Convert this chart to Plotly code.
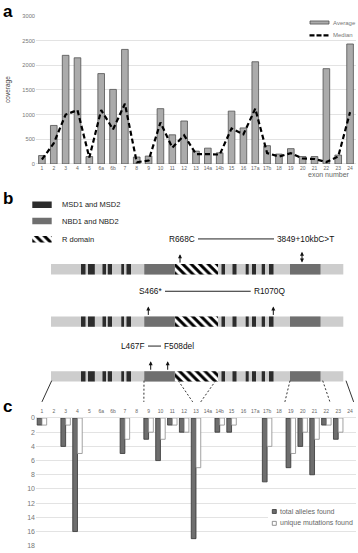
import plotly.graph_objects as go

W, H = 358, 553
FONT = "Liberation Sans"

# ---------------- data ----------------
exons = ["1", "2", "3", "4", "5", "6a", "6b", "7", "8", "9", "10", "11", "12", "13",
         "14a", "14b", "15", "16", "17a", "17b", "18", "19", "20", "21", "22", "23", "24"]
coverage_average = [170, 780, 2200, 2150, 150, 1830, 1510, 2320, 140, 160, 1120, 590, 870, 260,
                    320, 225, 1070, 730, 2070, 370, 200, 310, 150, 150, 1930, 180, 2430]
coverage_median = [90, 420, 1000, 1090, 130, 1090, 700, 1220, 35, 70, 840, 330, 580, 200,
                   200, 190, 720, 600, 1120, 220, 150, 220, 110, 100, 40, 150, 1050]
coverage_ticks = [0, 500, 1000, 1500, 2000, 2500, 3000]

total_alleles = [1, 0, 4, 16, 0, 0, 0, 5, 0, 3, 6, 1, 2, 17, 0, 2, 2, 0, 0, 9, 0, 7, 4, 8, 1, 3, 0]
unique_mutations = [1, 0, 1, 5, 0, 0, 0, 3, 0, 2, 3, 1, 2, 7, 0, 1, 1, 0, 0, 4, 0, 5, 2, 3, 1, 2, 0]
allele_ticks = [0, 2, 4, 6, 8, 10, 12, 14, 16, 18]

# gene schematic (positions along the drawn gene)
gene_span = (51, 343.3)
msd_blocks = [(81, 85.5), (88, 94.8), (102.5, 106), (107.8, 112), (121.3, 124), (126.5, 131),
              (221.5, 225), (232.5, 236.5), (245.7, 248.7), (252, 256), (261.7, 265), (269, 273.5)]
nbd_blocks = [(144.3, 174.8), (290, 320.5)]
r_domain = (175, 218)
row_centers = [268.7, 321.7, 377.2]
domain_legend = ["MSD1 and MSD2", "NBD1 and NBD2", "R domain"]

# mutations per row: (label, position, double-headed)
row_mutations = [
    [("R668C", 180, False), ("3849+10kbC>T", 302, True)],
    [("S466*", 148.3, False), ("R1070Q", 273.3, False)],
    [("L467F", 150.7, False), ("F508del", 167.7, False)],
]
# connectors: gene position -> exon index position in panel c, dashed?
connectors = [(51.7, 0.0, False), (144, 8.6, True), (178.3, 12.72, True), (215.7, 13.4, True),
              (290, 20.5, True), (322.7, 24.3, True), (346, 26.3, False)]

# ---------------- geometry helpers ----------------
X0, X1 = 36, 356  # plot area (px) shared by panels a and c


def px(x):
    return x / W


def py(y):
    return 1 - y / H


def exon_px(idx):
    return X0 + (idx + 0.5) * (X1 - X0) / len(exons)


fig = go.Figure()

# ---------------- panel a ----------------
fig.add_trace(go.Bar(x=exons, y=coverage_average, width=0.56, xaxis="x", yaxis="y",
                     marker=dict(color="#ababab", line=dict(color="#505050", width=0.8)),
                     name="Average"))
fig.add_trace(go.Scatter(x=exons, y=coverage_median, mode="lines", xaxis="x", yaxis="y",
                         line=dict(color="black", width=2.2, dash="5px,3px"), name="Median"))

# ---------------- panel c ----------------
fig.add_trace(go.Bar(x=exons, y=[v if v else None for v in total_alleles], width=0.4, offset=-0.4,
                     xaxis="x2", yaxis="y2", name="total alleles found",
                     marker=dict(color="#6e6e6e", line=dict(color="#333333", width=0.8))))
fig.add_trace(go.Bar(x=exons, y=[v if v else None for v in unique_mutations], width=0.4, offset=0,
                     xaxis="x2", yaxis="y2", name="unique mutations found",
                     marker=dict(color="white", line=dict(color="#8c8c8c", width=0.8))))

# ---------------- panel b (gene diagrams) ----------------
BH = 10.5
n = len(row_centers)
fig.add_trace(go.Bar(orientation="h", y=row_centers, x=[gene_span[1] - gene_span[0]] * n,
                     base=[gene_span[0]] * n, width=BH, xaxis="x3", yaxis="y3",
                     marker=dict(color="#cdcdcd", line=dict(width=0))))
ys, xs, bs = [], [], []
for yc in row_centers:
    for a, b in msd_blocks:
        ys.append(yc); xs.append(b - a); bs.append(a)
fig.add_trace(go.Bar(orientation="h", y=ys, x=xs, base=bs, width=BH, xaxis="x3", yaxis="y3",
                     marker=dict(color="#2c2c2c", line=dict(width=0))))
ys, xs, bs = [], [], []
for yc in row_centers:
    for a, b in nbd_blocks:
        ys.append(yc); xs.append(b - a); bs.append(a)
fig.add_trace(go.Bar(orientation="h", y=ys, x=xs, base=bs, width=BH, xaxis="x3", yaxis="y3",
                     marker=dict(color="#6f6f6f", line=dict(width=0))))
hatch = dict(shape="\\", fgcolor="#000000", bgcolor="white", fgopacity=1, size=6, solidity=0.5)
fig.add_trace(go.Bar(orientation="h", y=row_centers, x=[r_domain[1] - r_domain[0]] * n,
                     base=[r_domain[0]] * n, width=BH, xaxis="x3", yaxis="y3",
                     marker=dict(color="white", pattern=hatch, line=dict(width=0))))
# domain legend swatches
leg_y = [203.3, 219.8, 238.3]
fig.add_trace(go.Bar(orientation="h", y=leg_y[:2], x=[19.4, 19.4], base=[32.3, 32.3], width=6.4,
                     xaxis="x3", yaxis="y3",
                     marker=dict(color=["#2c2c2c", "#6f6f6f"], line=dict(width=0))))
fig.add_trace(go.Bar(orientation="h", y=[leg_y[2]], x=[19.4], base=[32.3], width=6.4,
                     xaxis="x3", yaxis="y3",
                     marker=dict(color="white", pattern=hatch, line=dict(width=0))))

shapes = []
annotations = []

# domain legend text
for label, yv in zip(domain_legend, leg_y):
    annotations.append(dict(text=label, x=60, y=yv, xref="x3", yref="y3", xanchor="left",
                            yanchor="middle", showarrow=False,
                            font=dict(family=FONT, size=7.5, color="#1a1a1a")))

# mutations
left_ends = {"R668C": 197, "S466*": 164, "L467F": 147}
right_starts = {"3849+10kbC>T": 275, "R1070Q": 251.7, "F508del": 162}
for yc, muts in zip(row_centers, row_mutations):
    top = yc - BH / 2
    ty = top - 25.5
    (l1, p1, d1), (l2, p2, d2) = muts
    annotations.append(dict(text=l1, x=left_ends[l1], y=ty, xref="x3", yref="y3",
                            xanchor="right", yanchor="middle", showarrow=False,
                            font=dict(family=FONT, size=8.3, color="#111")))
    annotations.append(dict(text=l2, x=right_starts[l2], y=ty, xref="x3", yref="y3",
                            xanchor="left", yanchor="middle", showarrow=False,
                            font=dict(family=FONT, size=8.3, color="#111")))
    shapes.append(dict(type="line", xref="x3", yref="y3", x0=left_ends[l1] + 1,
                       x1=right_starts[l2] - 1, y0=ty, y1=ty, line=dict(color="#222", width=1)))
    for lab, p, dbl in muts:
        head = top - (12.5 if dbl else 10)
        annotations.append(dict(text="", x=p, y=head, ax=p, ay=top, xref="x3", yref="y3",
                                axref="x3", ayref="y3", showarrow=True,
                                arrowhead=2, arrowsize=0.8, arrowwidth=1,
                                arrowside="end+start" if dbl else "end",
                                startarrowhead=2, startarrowsize=0.8,
                                arrowcolor="#111", standoff=0, startstandoff=0))

# connectors from last gene diagram to panel c exons
for gx, ei, dashed in connectors:
    shapes.append(dict(type="line", xref="x3", yref="y3", x0=gx, y0=381.5, x1=exon_px(ei), y1=403,
                       line=dict(color="#333", width=1, dash="2px,2px" if dashed else "solid")))

# panel a legend (manual)
shapes.append(dict(type="rect", xref="paper", yref="paper", x0=px(310), x1=px(329),
                   y0=py(20.3), y1=py(17.2), fillcolor="#ababab", line=dict(color="#505050", width=0.8)))
shapes.append(dict(type="line", xref="paper", yref="paper", x0=px(309.5), x1=px(329),
                   y0=py(31.7), y1=py(31.7), line=dict(color="black", width=2.2, dash="5px,2px")))
for txt, yv in [("Average", 18.8), ("Median", 31.7)]:
    annotations.append(dict(text=txt, x=px(331), y=py(yv), xref="paper", yref="paper",
                            xanchor="left", yanchor="middle", showarrow=False,
                            font=dict(family=FONT, size=6, color="#777")))

# panel c legend (manual)
shapes.append(dict(type="rect", xref="paper", yref="paper", x0=px(268), x1=px(358),
                   y0=py(532), y1=py(507), fillcolor="white", line=dict(width=0), layer="above"))
shapes.append(dict(type="rect", xref="paper", yref="paper", x0=px(272.3), x1=px(276.3),
                   y0=py(516), y1=py(512), fillcolor="#6e6e6e", line=dict(color="#333", width=0.8),
                   layer="above"))
shapes.append(dict(type="rect", xref="paper", yref="paper", x0=px(272.3), x1=px(276.3),
                   y0=py(528), y1=py(524), fillcolor="white", line=dict(color="#777", width=0.8),
                   layer="above"))
for txt, yv in [("total alleles found", 514), ("unique mutations found", 526)]:
    annotations.append(dict(text=txt, x=px(277.5), y=py(yv), xref="paper", yref="paper",
                            xanchor="left", yanchor="middle", showarrow=False,
                            font=dict(family=FONT, size=7, color="#666")))

# axis titles
annotations.append(dict(text="coverage", x=px(8), y=py(87), xref="paper", yref="paper",
                        textangle=-90, showarrow=False, xanchor="center", yanchor="middle",
                        font=dict(family=FONT, size=6.5, color="#444")))
annotations.append(dict(text="exon number", x=px(352), y=py(172.5), xref="paper", yref="paper",
                        xanchor="right", yanchor="middle", showarrow=False,
                        font=dict(family=FONT, size=7, color="#666")))

# panel letters
for letter, yv in [("a", 8), ("b", 197), ("c", 408)]:
    annotations.append(dict(text="<b>%s</b>" % letter, x=px(0.5), y=py(yv), xref="paper",
                            yref="paper", xanchor="left", yanchor="middle", showarrow=False,
                            font=dict(family=FONT, size=17, color="black")))

grid = "#dcdcdc"
fig.update_layout(
    width=W, height=H, autosize=False,
    margin=dict(l=0, r=0, t=0, b=0, pad=0),
    paper_bgcolor="white", plot_bgcolor="white",
    barmode="overlay", showlegend=False, hovermode=False,
    font=dict(family=FONT),
    xaxis=dict(domain=[px(X0), px(X1)], type="category", range=[-0.5, 26.5], anchor="y",
               showline=False, ticks="", showgrid=False,
               tickfont=dict(family=FONT, size=5, color="#666")),
    yaxis=dict(domain=[py(162), py(12)], range=[0, 3000], tickvals=coverage_ticks, anchor="x",
               gridcolor=grid, gridwidth=0.8, zeroline=True, zerolinecolor=grid, zerolinewidth=0.8,
               showline=False, ticks="", tickfont=dict(family=FONT, size=5.7, color="#777")),
    xaxis2=dict(domain=[px(X0), px(X1)], type="category", range=[-0.5, 26.5], anchor="y2",
                side="top", showline=False, ticks="", showgrid=False, ticklabelstandoff=3,
                tickfont=dict(family=FONT, size=5, color="#666")),
    yaxis2=dict(domain=[py(548.7), py(419.3)], range=[18, 0], tickvals=allele_ticks, anchor="x2",
                gridcolor=grid, gridwidth=0.8, zeroline=True, zerolinecolor=grid, zerolinewidth=0.8,
                showline=False, ticks="", tickfont=dict(family=FONT, size=7, color="#777")),
    xaxis3=dict(domain=[0, 1], range=[0, W], anchor="y3", visible=False, fixedrange=True),
    yaxis3=dict(domain=[py(405), py(190)], range=[405, 190], anchor="x3", visible=False,
                fixedrange=True),
    shapes=shapes,
    annotations=annotations,
)

fig.write_html(
    "out.html",
    config={"displayModeBar": False, "staticPlot": True},
    post_script="document.body.style.margin='0';document.body.style.padding='0';"
                "document.body.style.overflow='hidden';",
)
